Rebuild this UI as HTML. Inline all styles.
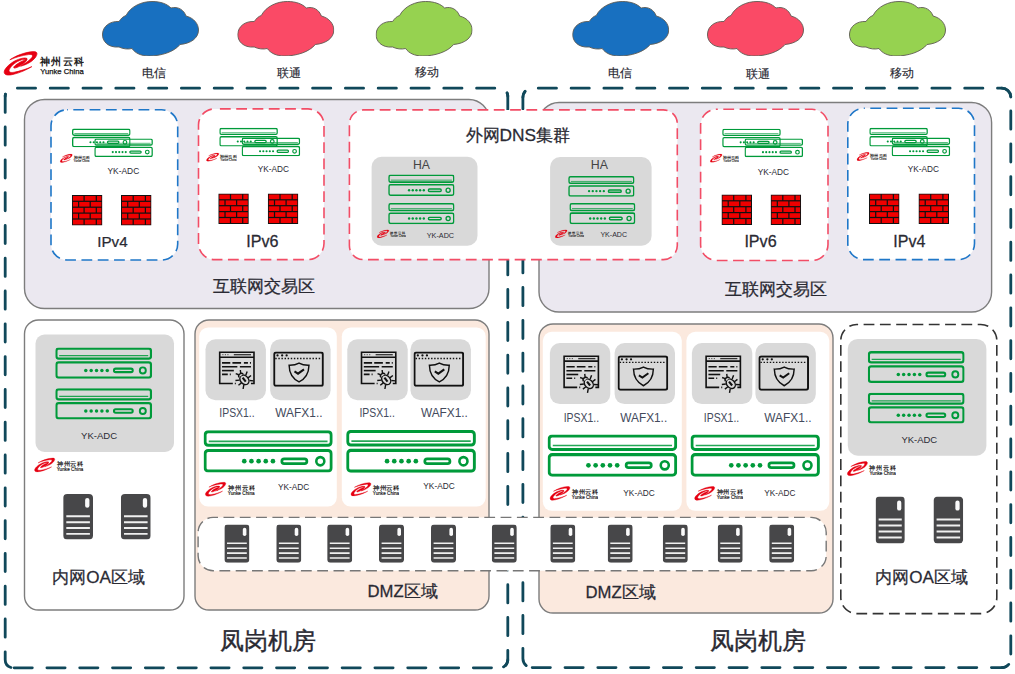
<!DOCTYPE html><html><head><meta charset="utf-8"><style>
html,body{margin:0;padding:0;background:#fff;width:1015px;height:674px;overflow:hidden}
svg{display:block;font-family:"Liberation Sans",sans-serif}
text{font-family:"Liberation Sans",sans-serif}
</style></head><body>
<svg width="1015" height="674" viewBox="0 0 1015 674">
<defs>
<symbol id="cloud" viewBox="0 0 97 55" preserveAspectRatio="none">
 <path d="M17,46 C6,47 0,40 0.5,33 C1,25 8,20 17,20.5 C19,17.5 21,15.5 24,14.5 C29,5 40,0.5 50,0.5 C59,0.5 65,3 69,7 C76,5 82,9 84,15 C92,17 96.5,23 96.5,29 C96.5,37 89,42.5 78,43.5 C72,51 59,55 47,55 C39,55 33,52 30,47.5 C26,48.5 21,48 17,46 Z" stroke="#5e5a52" stroke-width="0.9"/>
</symbol>
<symbol id="swoosh" viewBox="0 0 874 674" preserveAspectRatio="none" overflow="visible">
 <path fill="#e60012" stroke="#e60012" stroke-width="17" d="M170,245 C320,140 560,50 760,40 C870,35 870,110 800,200 C720,300 580,370 440,405 C540,340 660,270 720,190 C760,130 730,105 640,115 C480,130 300,190 170,245 Z"/>
 <path fill="#e60012" stroke="#e60012" stroke-width="17" d="M600,215 C560,180 420,210 300,270 C150,350 20,480 30,560 C40,630 130,640 250,610 C430,570 600,490 720,415 C600,470 420,530 280,555 C170,575 130,540 160,480 C210,380 330,290 450,250 C500,235 540,235 560,250 Z"/>
 <path fill="#e60012" stroke="#e60012" stroke-width="20" d="M600,215 C610,260 540,330 440,390 C380,425 320,450 285,450 C260,450 265,420 290,400 C370,330 480,270 560,250 Z"/>
</symbol>
<symbol id="logo" viewBox="0 0 81 26" preserveAspectRatio="none">
 <use href="#swoosh" x="0" y="-0.3" width="35" height="27"/>
 <text x="37.3" y="14.6" font-size="10.2" fill="#222" font-weight="700" textLength="43.5" lengthAdjust="spacing">神州云科</text>
 <text x="37.3" y="23.4" font-size="8" fill="#111" stroke="#111" stroke-width="0.25" textLength="43.5" lengthAdjust="spacingAndGlyphs" style="font-family:'Liberation Sans',sans-serif">Yunke China</text>
</symbol>
<symbol id="dev" viewBox="0 0 100 32" preserveAspectRatio="none">
 <g fill="none" stroke="#009a3a" stroke-width="2.3">
  <rect x="1.15" y="1.15" width="97.7" height="10.2" rx="2.4"/>
  <rect x="1.15" y="15.3" width="97.7" height="15.55" rx="2.4"/>
  <rect x="60.6" y="21.6" width="19.4" height="3.6" rx="1.8" stroke-width="2.1"/>
  <circle cx="90.4" cy="23.4" r="3.1" stroke-width="2"/>
 </g>
 <line x1="4" y1="8.4" x2="96" y2="8.4" stroke="#009a3a" stroke-width="1.3" opacity="0.85"/>
 <g fill="#009a3a">
  <circle cx="31.5" cy="23.4" r="1.8"/><circle cx="37.05" cy="23.4" r="1.8"/><circle cx="42.6" cy="23.4" r="1.8"/><circle cx="48.15" cy="23.4" r="1.8"/><circle cx="53.7" cy="23.4" r="1.8"/>
 </g>
</symbol>
<symbol id="fw" viewBox="0 0 30 30" preserveAspectRatio="none">
 <rect x="0" y="0" width="30" height="30" fill="#111"/>
 <g fill="#f00000"><rect x="1" y="1" width="10.4" height="4.6"/><rect x="12.6" y="1" width="10.8" height="4.6"/><rect x="24.6" y="1" width="4.4" height="4.6"/><rect x="1" y="6.8" width="5.0" height="4.6"/><rect x="7.2" y="6.8" width="10.2" height="4.6"/><rect x="18.6" y="6.8" width="10.4" height="4.6"/><rect x="1" y="12.6" width="10.4" height="4.6"/><rect x="12.6" y="12.6" width="10.8" height="4.6"/><rect x="24.6" y="12.6" width="4.4" height="4.6"/><rect x="1" y="18.4" width="5.0" height="4.6"/><rect x="7.2" y="18.4" width="10.2" height="4.6"/><rect x="18.6" y="18.4" width="10.4" height="4.6"/><rect x="1" y="24.2" width="10.4" height="4.8"/><rect x="12.6" y="24.2" width="10.8" height="4.8"/><rect x="24.6" y="24.2" width="4.4" height="4.8"/></g>
</symbol>
<symbol id="srv" viewBox="0 0 25 38" preserveAspectRatio="none">
 <rect x="0" y="0" width="25" height="38" rx="3.4" fill="#474749"/>
 <rect x="18.4" y="3.3" width="3.6" height="8.2" rx="1.8" fill="#fafafa"/>
 <g stroke="#f0f0f0" stroke-width="1.6">
  <line x1="2.6" y1="18.6" x2="22.4" y2="18.6"/><line x1="2.6" y1="23.6" x2="22.4" y2="23.6"/><line x1="2.6" y1="28.4" x2="22.4" y2="28.4"/><line x1="2.6" y1="33.2" x2="22.4" y2="33.2"/>
 </g>
</symbol>
<symbol id="ips" viewBox="0 0 36 33" preserveAspectRatio="none" overflow="visible">
 <g fill="none" stroke="#111" stroke-linecap="butt">
  <path d="M14,32.2 L1,32.2 L1,1 L35,1 L35,32.2 L32,32.2" stroke-width="1.6"/>
  <line x1="1" y1="5.9" x2="35" y2="5.9" stroke-width="1.6"/>
  <line x1="15" y1="3.4" x2="32" y2="3.4" stroke-width="1.3" stroke="#333"/>
  <line x1="3.6" y1="3.4" x2="10.5" y2="3.4" stroke-width="0.9" stroke-dasharray="1.1 1.4" stroke="#333"/>
  <g stroke-width="1.6">
   <path d="M3.3,11.6 H11.5 M13.6,11.6 H22.2 M25,11.6 H29 M31,11.6 H32"/>
   <path d="M3.3,15.5 H18.5 M21,15.5 H32"/>
   <path d="M3.3,19.3 H15"/>
   <path d="M3.3,23.1 H9 M11,23.1 H12"/>
  </g>
  <line x1="16" y1="32.2" x2="17" y2="32.2" stroke-width="1.6"/>
  <g transform="translate(24.7,27.6) rotate(-38) scale(1.32)" stroke-width="1.05">
   <ellipse cx="0" cy="0.9" rx="3" ry="4" fill="#d9d9d9"/>
   <path d="M-1.9,-3 C-1.9,-5.3 1.9,-5.3 1.9,-3" fill="#d9d9d9"/>
   <path d="M-0.9,-4.7 L-2.2,-6.8 M0.9,-4.7 L2.2,-6.8"/>
   <path d="M-3,-1.2 L-5.6,-2.8 M3,-1.2 L5.6,-2.8 M-3.1,1.4 L-6,1.4 M3.1,1.4 L6,1.4 M-2.7,3.7 L-5,5.8 M2.7,3.7 L5,5.8"/>
   <path d="M0,-1.2 L0,2.6" stroke-width="1.6"/>
  </g>
 </g>
</symbol>
<symbol id="waf" viewBox="0 0 49 34" preserveAspectRatio="none">
 <g fill="none" stroke="#111">
  <rect x="1" y="1" width="47" height="32" rx="1.8" stroke-width="1.9"/>
  <line x1="2" y1="6.8" x2="47" y2="6.8" stroke-width="1.3" stroke-dasharray="1.4 1.6"/>
  <path d="M25,11.2 C22,12.8 18.5,13.3 15.4,13.2 C15.5,20 17.5,25.5 25,29.2 C32.5,25.5 34.5,20 34.6,13.2 C31.5,13.3 28,12.8 25,11.2 Z" stroke-width="1.4"/>
  <path d="M20.6,19.2 L24,21.3 L29.8,17.2" stroke-width="2"/>
 </g>
 <g fill="#111"><circle cx="4.2" cy="3.8" r="1.1"/><circle cx="8.7" cy="3.8" r="1.1"/><circle cx="13" cy="3.8" r="1.1"/></g>
</symbol>
</defs>

<use href="#cloud" x="102" y="1" width="97" height="55" fill="#1870c0"/>
<use href="#cloud" x="237.3" y="1" width="97" height="55" fill="#fa4a66"/>
<use href="#cloud" x="375.6" y="1" width="97" height="55" fill="#96d250"/>
<use href="#cloud" x="572.2" y="1" width="97" height="55" fill="#1870c0"/>
<use href="#cloud" x="707" y="1" width="97" height="55" fill="#fa4a66"/>
<use href="#cloud" x="849" y="1" width="97" height="55" fill="#96d250"/>
<text x="141.95" y="76.95" font-size="11.63" fill="#2a2a33" font-weight="400" text-anchor="start" stroke="#2a2a33" stroke-width="0.15">电信</text>
<text x="276.75" y="76.95" font-size="11.84" fill="#2a2a33" font-weight="400" text-anchor="start" stroke="#2a2a33" stroke-width="0.15">联通</text>
<text x="415.3" y="76.45" font-size="12.32" fill="#2a2a33" font-weight="400" text-anchor="start" stroke="#2a2a33" stroke-width="0.15">移动</text>
<text x="608.0" y="76.55" font-size="11.68" fill="#2a2a33" font-weight="400" text-anchor="start" stroke="#2a2a33" stroke-width="0.15">电信</text>
<text x="745.8" y="77.95" font-size="11.79" fill="#2a2a33" font-weight="400" text-anchor="start" stroke="#2a2a33" stroke-width="0.15">联通</text>
<text x="890.15" y="76.55" font-size="12.16" fill="#2a2a33" font-weight="400" text-anchor="start" stroke="#2a2a33" stroke-width="0.15">移动</text>
<use href="#logo" x="3" y="50.3" width="81" height="26" />
<rect x="24.5" y="99.5" width="464.5" height="209" rx="20" fill="#ebe8f0" stroke="#7d7d7d" stroke-width="1.4"/>
<rect x="539" y="102.5" width="452.6" height="209.5" rx="20" fill="#ebe8f0" stroke="#7d7d7d" stroke-width="1.4"/>
<rect x="24.5" y="320" width="159.5" height="290" rx="14" fill="#fff" stroke="#7d7d7d" stroke-width="1.4"/>
<rect x="195" y="320" width="294" height="290" rx="14" fill="#fbe9de" stroke="#7d7d7d" stroke-width="1.4"/>
<rect x="539" y="324" width="294" height="289" rx="14" fill="#fbe9de" stroke="#7d7d7d" stroke-width="1.4"/>
<rect x="840.8" y="324.5" width="156" height="289.1" rx="16" fill="#fff" stroke="#333" stroke-width="1.6" stroke-dasharray="10.8 5.5" stroke-dashoffset="9.50"/>
<path d="M5.2,96.2 A8,8 0 0 1 13.2,88.2 H499.8 A8,8 0 0 1 507.8,96.2" fill="none" stroke="#10485a" stroke-width="2.8" stroke-linecap="round" stroke-dasharray="18.20 14.60" stroke-dashoffset="16.13"/>
<path d="M499.8,88.2 A8,8 0 0 1 507.8,96.2 V659.8 A8,8 0 0 1 499.8,667.8" fill="none" stroke="#10485a" stroke-width="2.8" stroke-linecap="round" stroke-dasharray="18.20 14.60" stroke-dashoffset="23.83"/>
<path d="M507.8,659.8 A8,8 0 0 1 499.8,667.8 H13.2 A8,8 0 0 1 5.2,659.8" fill="none" stroke="#10485a" stroke-width="2.8" stroke-linecap="round" stroke-dasharray="18.20 14.60" stroke-dashoffset="12.03"/>
<path d="M13.2,667.8 A8,8 0 0 1 5.2,659.8 V96.2 A8,8 0 0 1 13.2,88.2" fill="none" stroke="#10485a" stroke-width="2.8" stroke-linecap="round" stroke-dasharray="18.20 14.60" stroke-dashoffset="30.53"/>
<path d="M522.9,97.2 A9,9 0 0 1 531.9,88.2 H1001.8 A9,9 0 0 1 1010.8,97.2" fill="none" stroke="#10485a" stroke-width="2.8" stroke-linecap="round" stroke-dasharray="18.20 14.60" stroke-dashoffset="12.36"/>
<path d="M1001.8,88.2 A9,9 0 0 1 1010.8,97.2 V658.6 A9,9 0 0 1 1001.8,667.6" fill="none" stroke="#10485a" stroke-width="2.8" stroke-linecap="round" stroke-dasharray="18.20 14.60" stroke-dashoffset="4.96"/>
<path d="M1010.8,658.6 A9,9 0 0 1 1001.8,667.6 H531.9 A9,9 0 0 1 522.9,658.6" fill="none" stroke="#10485a" stroke-width="2.8" stroke-linecap="round" stroke-dasharray="18.20 14.60" stroke-dashoffset="26.56"/>
<path d="M531.9,667.6 A9,9 0 0 1 522.9,658.6 V97.2 A9,9 0 0 1 531.9,88.2" fill="none" stroke="#10485a" stroke-width="2.8" stroke-linecap="round" stroke-dasharray="18.20 14.60" stroke-dashoffset="26.66"/>
<rect x="51" y="109.8" width="126.69999999999999" height="150.2" rx="16" fill="#fff" stroke="#1f77c8" stroke-width="1.6" stroke-dasharray="10.8 5.5" stroke-dashoffset="10.00"/>
<rect x="198.5" y="108.9" width="125.5" height="150.70000000000002" rx="16" fill="#fff" stroke="#f24d66" stroke-width="1.6" stroke-dasharray="10.8 5.5" stroke-dashoffset="10.90"/>
<rect x="349.4" y="109.9" width="327.9" height="149.70000000000002" rx="14" fill="#fff" stroke="#f24d66" stroke-width="1.6" stroke-dasharray="10.8 5.5" stroke-dashoffset="0.00"/>
<rect x="700.6" y="109.3" width="127.39999999999998" height="151.2" rx="16" fill="#fff" stroke="#f24d66" stroke-width="1.6" stroke-dasharray="10.8 5.5" stroke-dashoffset="9.60"/>
<rect x="847.8" y="108.2" width="126.70000000000005" height="151.40000000000003" rx="16" fill="#fff" stroke="#1f77c8" stroke-width="1.6" stroke-dasharray="10.8 5.5" stroke-dashoffset="9.80"/>
<use href="#dev" x="72" y="128.6" width="58.6" height="18.7" />
<use href="#dev" x="94.3" y="138.4" width="58.6" height="18.7" />
<use href="#dev" x="219.3" y="127.8" width="58.6" height="18.7" />
<use href="#dev" x="241.60000000000002" y="137.6" width="58.6" height="18.7" />
<use href="#dev" x="722.2" y="128.7" width="58.6" height="18.7" />
<use href="#dev" x="744.5" y="138.5" width="58.6" height="18.7" />
<use href="#dev" x="869.3" y="127.8" width="58.6" height="18.7" />
<use href="#dev" x="891.5999999999999" y="137.6" width="58.6" height="18.7" />
<use href="#logo" x="59.7" y="153.6" width="30.0" height="9.400000000000006" />
<use href="#logo" x="206" y="152.5" width="30.80000000000001" height="9.199999999999989" />
<use href="#logo" x="709.8" y="153.6" width="29.200000000000045" height="9.200000000000017" />
<use href="#logo" x="856.5" y="151.8" width="30.299999999999955" height="9.299999999999983" />
<text x="107.5" y="173.9" font-size="8.42" fill="#2a2a33" font-weight="400" text-anchor="start" >YK-ADC</text>
<text x="257.75" y="172.3" font-size="8.29" fill="#2a2a33" font-weight="400" text-anchor="start" >YK-ADC</text>
<text x="757.75" y="175.3" font-size="8.29" fill="#2a2a33" font-weight="400" text-anchor="start" >YK-ADC</text>
<text x="907.75" y="172.1" font-size="8.29" fill="#2a2a33" font-weight="400" text-anchor="start" >YK-ADC</text>
<use href="#fw" x="71.9" y="195" width="30.5" height="30.5" />
<use href="#fw" x="121" y="195" width="30.5" height="30.5" />
<use href="#fw" x="218.3" y="193.5" width="30.5" height="30.5" />
<use href="#fw" x="267.8" y="193.5" width="30.5" height="30.5" />
<use href="#fw" x="721.5" y="194.5" width="30.5" height="30.5" />
<use href="#fw" x="770.6" y="194.5" width="30.5" height="30.5" />
<use href="#fw" x="869" y="193.5" width="30.5" height="30.5" />
<use href="#fw" x="918.5" y="193.5" width="30.5" height="30.5" />
<text x="97.25" y="246.5" font-size="15.19" fill="#2a2a33" font-weight="400" text-anchor="start" stroke="#2a2a33" stroke-width="0.24">IPv4</text>
<text x="246.3" y="247.0" font-size="16.11" fill="#2a2a33" font-weight="400" text-anchor="start" stroke="#2a2a33" stroke-width="0.26">IPv6</text>
<text x="744.4" y="246.8" font-size="16.11" fill="#2a2a33" font-weight="400" text-anchor="start" stroke="#2a2a33" stroke-width="0.26">IPv6</text>
<text x="893.25" y="247.0" font-size="16.05" fill="#2a2a33" font-weight="400" text-anchor="start" stroke="#2a2a33" stroke-width="0.26">IPv4</text>
<text x="465.5" y="141.0" font-size="17.29" fill="#2a2a33" font-weight="400" text-anchor="start" stroke="#2a2a33" stroke-width="0.28">外网DNS集群</text>
<rect x="371.6" y="156.8" width="105.9" height="88.9" rx="10" fill="#d9d9d9"/>
<rect x="550.1" y="157.1" width="101.5" height="88.6" rx="10" fill="#d9d9d9"/>
<text x="412.95" y="169.15" font-size="12.21" fill="#444" font-weight="400" text-anchor="start" >HA</text>
<text x="590.85" y="169.15" font-size="12.36" fill="#444" font-weight="400" text-anchor="start" >HA</text>
<use href="#dev" x="388.2" y="174.5" width="66.3" height="21.5" />
<use href="#dev" x="388.2" y="203.1" width="66.3" height="21.1" />
<use href="#dev" x="568.2" y="176" width="66.3" height="20.7" />
<use href="#dev" x="569.4" y="203" width="66" height="21.2" />
<use href="#logo" x="376.6" y="229.4" width="29.399999999999977" height="8.900000000000006" />
<use href="#logo" x="554.8" y="229.4" width="29.40000000000009" height="8.900000000000006" />
<text x="426.75" y="237.55" font-size="7.24" fill="#2a2a33" font-weight="400" text-anchor="start" >YK-ADC</text>
<text x="600.4" y="236.55" font-size="7.05" fill="#2a2a33" font-weight="400" text-anchor="start" >YK-ADC</text>
<text x="212.5" y="292.4" font-size="16.97" fill="#2a2a33" font-weight="400" text-anchor="start" stroke="#2a2a33" stroke-width="0.27">互联网交易区</text>
<text x="724.5" y="294.85" font-size="17.14" fill="#2a2a33" font-weight="400" text-anchor="start" stroke="#2a2a33" stroke-width="0.27">互联网交易区</text>
<rect x="35.5" y="334.5" width="138.5" height="117.5" rx="9" fill="#d9d9d9"/>
<use href="#dev" x="55.3" y="347.5" width="96.8" height="31.3" />
<use href="#dev" x="55.3" y="388.3" width="96.8" height="31.1" />
<text x="81.1" y="439.3" font-size="9.53" fill="#2a2a33" font-weight="400" text-anchor="start" >YK-ADC</text>
<use href="#logo" x="33.9" y="457.3" width="49.6" height="15.300000000000011" />
<use href="#srv" x="63.2" y="494" width="29.8" height="45.6" />
<use href="#srv" x="120.9" y="494" width="29.8" height="45.6" />
<text x="52.25" y="582.75" font-size="17.11" fill="#2a2a33" font-weight="400" text-anchor="start" stroke="#2a2a33" stroke-width="0.27">内网OA区域</text>
<rect x="847.8" y="338.9" width="138.6" height="116.8" rx="10" fill="#d9d9d9"/>
<use href="#dev" x="867.8" y="351.1" width="96.8" height="31.9" />
<use href="#dev" x="867.8" y="392.7" width="96.8" height="30.8" />
<text x="901.4" y="443.45" font-size="9.47" fill="#2a2a33" font-weight="400" text-anchor="start" >YK-ADC</text>
<use href="#logo" x="846.7" y="460.8" width="49.39999999999998" height="15.599999999999966" />
<use href="#srv" x="875.6" y="496.4" width="29.2" height="47" />
<use href="#srv" x="933.5" y="496.4" width="29.7" height="47" />
<text x="875.35" y="583.0" font-size="17.04" fill="#2a2a33" font-weight="400" text-anchor="start" stroke="#2a2a33" stroke-width="0.27">内网OA区域</text>
<rect x="199.2" y="327.4" width="137.60000000000002" height="179.20000000000005" rx="9" fill="#fff"/>
<rect x="341.8" y="327.4" width="143.89999999999998" height="179.20000000000005" rx="9" fill="#fff"/>
<rect x="542.8" y="331.8" width="139.0" height="179.0" rx="9" fill="#fff"/>
<rect x="686.4" y="331.8" width="142.89999999999998" height="179.0" rx="9" fill="#fff"/>
<rect x="205.5" y="339.2" width="60.4" height="61" rx="10" fill="#d9d9d9"/>
<use href="#ips" x="218.7" y="351.3" width="36.3" height="33" />
<rect x="270.2" y="339.2" width="60.4" height="61" rx="10" fill="#d9d9d9"/>
<use href="#waf" x="273.17" y="351.46" width="50.7" height="35.4" />
<rect x="347.3" y="339.2" width="60.4" height="61" rx="10" fill="#d9d9d9"/>
<use href="#ips" x="360.5" y="351.3" width="36.3" height="33" />
<rect x="410.5" y="339.2" width="60.4" height="61" rx="10" fill="#d9d9d9"/>
<use href="#waf" x="413.47" y="351.46" width="50.7" height="35.4" />
<rect x="549.9" y="343.1" width="60.4" height="61" rx="10" fill="#d9d9d9"/>
<use href="#ips" x="563.1" y="355.20000000000005" width="36.3" height="33" />
<rect x="614.6" y="343.1" width="60.4" height="61" rx="10" fill="#d9d9d9"/>
<use href="#waf" x="617.57" y="355.36" width="50.7" height="35.4" />
<rect x="691.9" y="343.1" width="60.4" height="61" rx="10" fill="#d9d9d9"/>
<use href="#ips" x="705.1" y="355.20000000000005" width="36.3" height="33" />
<rect x="755.4" y="343.1" width="60.4" height="61" rx="10" fill="#d9d9d9"/>
<use href="#waf" x="758.37" y="355.36" width="50.7" height="35.4" />
<text x="219.30" y="417.30" font-size="12.07" fill="#434a5c" textLength="35.30" lengthAdjust="spacingAndGlyphs">IPSX1..</text>
<text x="275.30" y="417.30" font-size="12.07" fill="#434a5c" textLength="47.20" lengthAdjust="spacingAndGlyphs">WAFX1..</text>
<text x="359.40" y="417.30" font-size="12.07" fill="#434a5c" textLength="35.40" lengthAdjust="spacingAndGlyphs">IPSX1..</text>
<text x="420.90" y="417.30" font-size="12.07" fill="#434a5c" textLength="47.00" lengthAdjust="spacingAndGlyphs">WAFX1..</text>
<text x="563.70" y="421.50" font-size="12.48" fill="#434a5c" textLength="35.40" lengthAdjust="spacingAndGlyphs">IPSX1..</text>
<text x="620.30" y="421.50" font-size="12.48" fill="#434a5c" textLength="46.90" lengthAdjust="spacingAndGlyphs">WAFX1..</text>
<text x="703.80" y="421.50" font-size="12.48" fill="#434a5c" textLength="35.40" lengthAdjust="spacingAndGlyphs">IPSX1..</text>
<text x="764.30" y="421.50" font-size="12.48" fill="#434a5c" textLength="47.20" lengthAdjust="spacingAndGlyphs">WAFX1..</text>
<use href="#dev" x="203.6" y="430.2" width="129.1" height="42.4" />
<use href="#logo" x="204.7" y="481.5" width="50.10000000000002" height="15.399999999999977" />
<text x="277.9" y="490.05" font-size="8.32" fill="#2a2a33" font-weight="400" text-anchor="start" >YK-ADC</text>
<use href="#dev" x="346.2" y="429.9" width="129.7" height="42.8" />
<use href="#logo" x="350.3" y="482" width="49.0" height="14.600000000000023" />
<text x="423.35" y="489.3" font-size="8.29" fill="#2a2a33" font-weight="400" text-anchor="start" >YK-ADC</text>
<use href="#dev" x="547.6" y="434.4" width="129.6" height="42.3" />
<use href="#logo" x="549.4" y="485.7" width="48.80000000000007" height="15.199999999999989" />
<text x="623.35" y="496.1" font-size="8.29" fill="#2a2a33" font-weight="400" text-anchor="start" >YK-ADC</text>
<use href="#dev" x="690.5" y="434.4" width="129.4" height="42.3" />
<use href="#logo" x="694" y="485.7" width="49.200000000000045" height="15.199999999999989" />
<text x="764.35" y="496.1" font-size="8.24" fill="#2a2a33" font-weight="400" text-anchor="start" >YK-ADC</text>
<rect x="198.1" y="517.4" width="628.1" height="53.3" rx="15" fill="#fff" stroke="#777" stroke-width="1.4" stroke-dasharray="10.8 5.5" stroke-dashoffset="5.90"/>
<use href="#srv" x="224.4" y="524.5" width="25" height="38.3" />
<use href="#srv" x="276.3" y="524.5" width="25" height="38.3" />
<use href="#srv" x="327.2" y="524.5" width="25" height="38.3" />
<use href="#srv" x="379" y="524.5" width="25" height="38.3" />
<use href="#srv" x="431" y="524.5" width="25" height="38.3" />
<use href="#srv" x="491.8" y="524.5" width="25" height="38.3" />
<use href="#srv" x="550.3" y="524.5" width="25" height="38.3" />
<use href="#srv" x="607.7" y="524.5" width="25" height="38.3" />
<use href="#srv" x="662.8" y="524.5" width="25" height="38.3" />
<use href="#srv" x="717.7" y="524.5" width="25" height="38.3" />
<use href="#srv" x="769.2" y="524.5" width="25" height="38.3" />
<text x="367.55" y="596.8" font-size="16.71" fill="#2a2a33" font-weight="400" text-anchor="start" stroke="#2a2a33" stroke-width="0.27">DMZ区域</text>
<text x="585.45" y="597.7" font-size="16.71" fill="#2a2a33" font-weight="400" text-anchor="start" stroke="#2a2a33" stroke-width="0.27">DMZ区域</text>
<text x="219.8" y="648.6" font-size="23.69" fill="#2a2a33" font-weight="400" text-anchor="start" stroke="#2a2a33" stroke-width="0.38">凤岗机房</text>
<text x="709.8" y="648.6" font-size="23.69" fill="#2a2a33" font-weight="400" text-anchor="start" stroke="#2a2a33" stroke-width="0.38">凤岗机房</text>
</svg></body></html>
